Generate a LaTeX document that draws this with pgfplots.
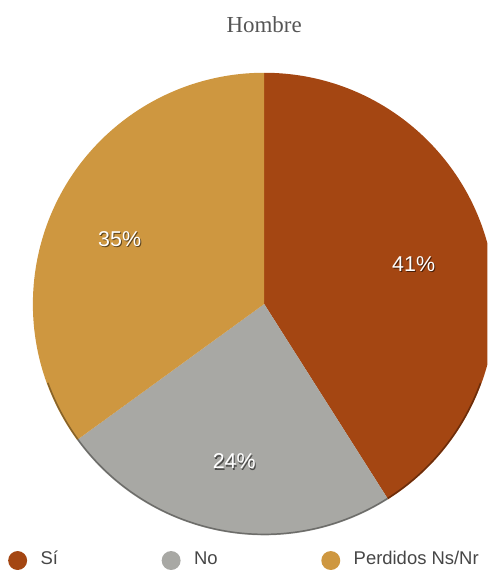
\documentclass[border=0pt]{standalone}
\usepackage{pgfplots}
\usepackage{pgfplotstable}
\pgfplotsset{compat=1.18}
\usepackage{fontspec}
\setmainfont{Liberation Serif}
\newfontfamily\sansf{Liberation Sans}
\definecolor{siC}{RGB}{164,70,18}
\definecolor{noC}{RGB}{168,168,164}
\definecolor{pnC}{RGB}{206,151,64}
\definecolor{titC}{RGB}{85,85,85}
\definecolor{legC}{RGB}{70,70,70}

\pgfplotstableread[col sep=comma]{
label,value
Sí,41
No,24
Perdidos Ns/Nr,35
}\piedata

\newcommand{\pielabel}[3]{%
  \node[font=\sansf\fontsize{21.5}{24}\selectfont, text=black, opacity=0.55] at (axis cs:#1,#2) [xshift=1pt,yshift=-1.3pt] {#3\%};
  \node[font=\sansf\fontsize{21.5}{24}\selectfont, text=white] at (axis cs:#1,#2) {#3\%};
}

\begin{document}
\begin{tikzpicture}
\pgfplotstablegetelem{0}{value}\of\piedata \let\vA\pgfplotsretval
\pgfplotstablegetelem{1}{value}\of\piedata \let\vB\pgfplotsretval
\pgfplotstablegetelem{2}{value}\of\piedata \let\vC\pgfplotsretval
\pgfmathsetmacro{\aA}{90-3.6*\vA}
\pgfmathsetmacro{\aB}{\aA-3.6*\vB}
\pgfmathsetmacro{\aC}{\aB-3.6*\vC}
\begin{axis}[
  width=489pt, height=570pt, scale only axis,
  xmin=0, xmax=489, ymin=0, ymax=570,
  hide axis, clip=true,
  legend columns=3,
  legend style={at={(axis cs:8,8)}, anchor=west, draw=none, fill=none,
    font=\sansf\fontsize{18.5}{20}\selectfont, text=legC,
    inner sep=0pt, nodes={inner sep=0pt, anchor=base west},
    /tikz/every odd column/.append style={column sep=13.5pt},
    /tikz/every even column/.append style={column sep=104pt}},
  legend image code/.code={\fill[#1, draw=none] (9.5pt,0.35em) circle (9.5pt);},
]
\addlegendimage{fill=siC, draw=none}
\addlegendentry{Sí}
\addlegendimage{fill=noC, draw=none}
\addlegendentry{No}
\addlegendimage{fill=pnC, draw=none}
\addlegendentry{Perdidos Ns/Nr}

\begin{scope}
\clip (axis cs:0,0) rectangle (axis cs:489,570);
\fill[siC] (axis cs:265,265) -- +(90:232pt) arc[start angle=90, end angle=\aA, radius=232pt] -- cycle;
\fill[noC] (axis cs:265,265) -- +(\aA:232pt) arc[start angle=\aA, end angle=\aB, radius=232pt] -- cycle;
\fill[pnC] (axis cs:265,265) -- +(\aB:232pt) arc[start angle=\aB, end angle=\aC, radius=232pt] -- cycle;
\draw[black, opacity=0.35, line width=1.5pt] (axis cs:265,265) ++(-20:231pt) arc[start angle=-20, end angle=-160, radius=231pt];
\end{scope}

\node[font=\fontsize{23}{27}\selectfont, text=titC] at (axis cs:265,545) {Hombre};

\pielabel{415}{305}{41}
\pielabel{235}{107}{24}
\pielabel{120}{330}{35}
\end{axis}
\end{tikzpicture}
\end{document}
